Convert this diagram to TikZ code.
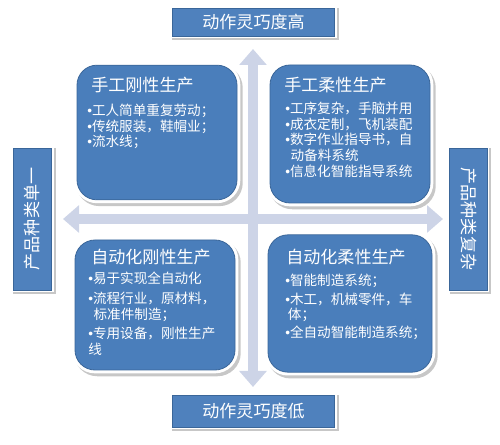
\documentclass[tikz,border=0pt]{standalone}
\usepackage{fontspec}
\setmainfont{Noto Sans CJK SC}
\newfontfamily\bulfont{Liberation Sans}
\newcommand\bul{{\bulfont •}}
\usetikzlibrary{arrows.meta}
\definecolor{qblue}{HTML}{4A7EBB}
\definecolor{qedge}{HTML}{3A6699}
\definecolor{lblue}{HTML}{4F81BD}
\definecolor{arrowc}{HTML}{CDD4E7}
\begin{document}
\begin{tikzpicture}[x=0.75pt,y=-0.75pt,
  quad/.style={fill=qblue, draw=qedge, line width=0.6pt, rounded corners=15pt,
    preaction={fill=black!22, draw=black!22, line width=5pt, transform canvas={xshift=1.8pt,yshift=-2.2pt}},
    preaction={draw=white, line width=5pt}},
  lab/.style={fill=lblue, draw=qedge, line width=0.6pt, text=white, inner sep=0pt,
    font=\fontsize{12.8pt}{14pt}\selectfont,
    preaction={fill=black!22, draw=black!22, line width=3pt, transform canvas={xshift=1.5pt,yshift=-1.8pt}},
    preaction={draw=white, line width=3pt}},
  qtitle/.style={text=white, inner sep=0pt, anchor=west, font=\fontsize{12.8pt}{14pt}\selectfont},
  qbody/.style={text=white, inner sep=0pt, anchor=north west, align=left, font=\fontsize{10.2pt}{11.7pt}\selectfont},
  cross/.style={draw=arrowc, line width=7.5pt, {Triangle[width=20pt,length=12pt]}-{Triangle[width=20pt,length=12pt]}}
]
\useasboundingbox (0,0) rectangle (500,445);
% cross arrows
\coordinate (vt) at (253,49);
\coordinate (vb) at (253,387);
\coordinate (hl) at (63,219);
\coordinate (hr) at (443,219);
\draw[cross] (vt) -- (vb);
\draw[cross] (hl) -- (hr);

% quadrant boxes
\node[quad, minimum width=120pt, minimum height=101pt] (tl) at (157,132.5) {};
\node[quad, minimum width=120pt, minimum height=103.5pt] (tr) at (350,134) {};
\node[quad, minimum width=120pt, minimum height=97.5pt] (bl) at (155,305) {};
\node[quad, minimum width=123pt, minimum height=103pt] (br) at (350,303.5) {};

% quadrant texts
\node[qtitle] (tlt) at (91,85) {手工刚性生产};
\node[qbody] (tlb) at (87,104) {\bul 工人简单重复劳动；\\\bul 传统服装，鞋帽业；\\\bul 流水线；};

\node[qtitle] (trt) at (284,85) {手工柔性生产};
\node[qbody] (trb) at (285,102) {\bul 工序复杂，手脑并用\\\bul 成衣定制，飞机装配\\\bul 数字作业指导书，自\\\hspace{4pt}动备料系统\\\bul 信息化智能指导系统};

\node[qtitle] (blt) at (91,257) {自动化刚性生产};
\node[qbody] (blb) at (88,272) {\bul 易于实现全自动化\\[3pt]\bul 流程行业，原材料，\\\hspace{4pt}标准件制造；\\[3pt]\bul 专用设备，刚性生产\\线};

\node[qtitle] (brt) at (286,257) {自动化柔性生产};
\node[qbody] (brb) at (285,274) {\bul 智能制造系统；\\[2pt]\bul 木工，机械零件，车\\\hspace{2pt}体；\\[2pt]\bul 全自动智能制造系统；};

% axis labels
\node[lab, minimum width=122pt, minimum height=21pt] (top) at (253.5,22) {动作灵巧度高};
\node[lab, minimum width=122pt, minimum height=24pt] (bot) at (253.5,411) {动作灵巧度低};
\node[lab, minimum width=106.5pt, minimum height=29pt, rotate=90] (left) at (32.5,219) {产品种类单一};
\node[lab, minimum width=106.5pt, minimum height=28pt, rotate=-90] (right) at (468.5,219) {产品种类复杂};
\end{tikzpicture}
\end{document}
